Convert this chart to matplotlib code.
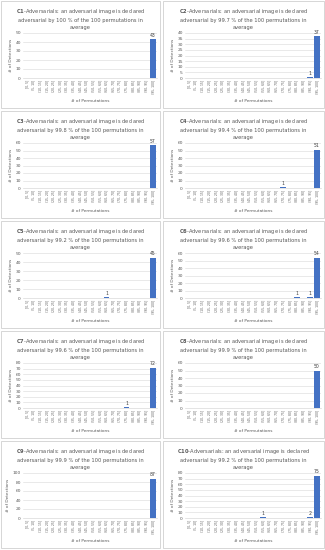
import matplotlib
matplotlib.use("Agg")
import matplotlib.pyplot as plt
from matplotlib.patches import Rectangle

plt.rcParams['mathtext.fontset'] = 'dejavusans'

# bin labels on the x axis
bins = ["[0, 5]"] + ["(%d, %d]" % (i, i + 5) for i in range(5, 100, 5)]

# detections per bin for every class (only non-zero bins were visible)
c1 = [0] * 19 + [43]
c2 = [0] * 18 + [1, 37]
c3 = [0] * 19 + [57]
c4 = [0] * 14 + [1] + [0] * 4 + [51]
c5 = [0] * 12 + [1] + [0] * 6 + [45]
c6 = [0] * 16 + [1, 0, 1, 54]
c7 = [0] * 15 + [1] + [0] * 3 + [72]
c8 = [0] * 19 + [50]
c9 = [0] * 19 + [87]
c10 = [0] * 11 + [1] + [0] * 6 + [2, 75]

names = ["C1", "C2", "C3", "C4", "C5", "C6", "C7", "C8", "C9", "C10"]
series = [c1, c2, c3, c4, c5, c6, c7, c8, c9, c10]
percents = ["100", "99.7", "99.8", "99.4", "99.2", "99.6", "99.6", "99.9", "99.9", "99.2"]
ymax = [50, 40, 60, 60, 50, 60, 80, 60, 100, 80]
ystep = [10, 5, 10, 10, 10, 10, 10, 10, 20, 10]

W, H = 325, 550
fig = plt.figure(figsize=(W / 100, H / 100), dpi=100)

blue = "#4472C4"
grey = "#595959"

for k in range(10):
    col = k % 2
    row = k // 2
    px = 1 if col == 0 else 163
    py = 1 + row * 110
    pw = 159 if col == 0 else 161
    ph = 107
    # panel border
    fig.patches.append(Rectangle((px / W, 1 - (py + ph) / H), pw / W, ph / H,
                                 transform=fig.transFigure, fill=False,
                                 edgecolor="#d0d0d0", linewidth=0.6))
    cx = px + pw / 2
    title = ("$\\bf{%s}$-Adversarials: an adversarial image is declared\n"
             "adversarial by %s %% of the 100 permutations in\naverage"
             % (names[k], percents[k]))
    fig.text(cx / W, 1 - (py + 6) / H, title, ha="center", va="top",
             fontsize=3.7, color=grey, linespacing=1.5)

    left = px + 22
    right = px + pw - 3
    top = py + 32
    bottom = py + 77
    ax = fig.add_axes([left / W, 1 - bottom / H, (right - left) / W, (bottom - top) / H])
    vals = series[k]
    xs = range(len(bins))
    ax.bar(xs, vals, width=0.85, color=blue, zorder=3)
    for x, v in zip(xs, vals):
        if v > 0:
            ax.text(x, v + ymax[k] * 0.03, str(v), ha="center", va="bottom",
                    fontsize=3.3, color="#404040")
    ax.set_xlim(-0.6, len(bins) - 0.4)
    ax.set_ylim(0, ymax[k])
    ax.set_yticks(range(0, ymax[k] + 1, ystep[k]))
    ax.set_xticks(list(xs))
    ax.set_xticklabels(bins, rotation=90, fontsize=2.2, color=grey)
    ax.tick_params(axis="y", labelsize=3.2, colors=grey, length=0, pad=1.5)
    ax.tick_params(axis="x", length=0, pad=1.5)
    ax.grid(axis="y", color="#d9d9d9", linewidth=0.4, zorder=0)
    for s in ["top", "right", "left"]:
        ax.spines[s].set_visible(False)
    ax.spines["bottom"].set_color("#d9d9d9")
    ax.spines["bottom"].set_linewidth(0.5)
    ax.set_ylabel("# of Detections", fontsize=3.1, color=grey, labelpad=2)
    fig.text((left + right) / 2 / W, 1 - (py + 100) / H, "# of Permutations",
             ha="center", va="center", fontsize=3.1, color=grey)

fig.savefig("out.png", dpi=100, facecolor="white")
